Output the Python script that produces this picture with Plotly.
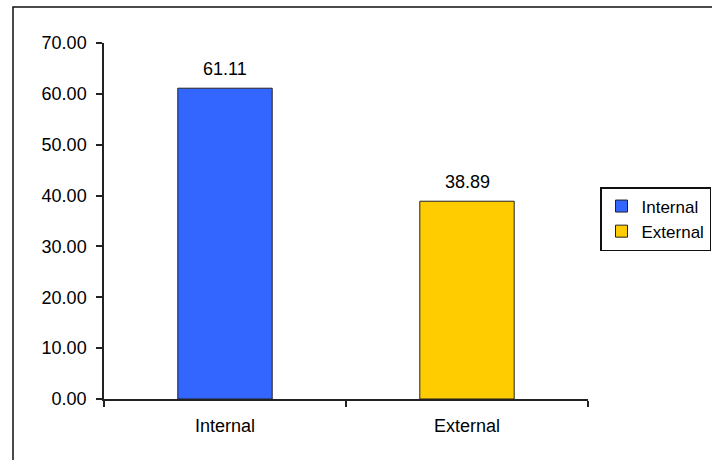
import plotly.graph_objects as go

# Share of sources, in percent
categories = ["Internal", "External"]
values = [61.11, 38.89]
colors = ["#3366FF", "#FFCC00"]
y_ticks = [0, 10, 20, 30, 40, 50, 60, 70]

W, H = 712, 460
L, R, T, B = 104, 588, 43, 399  # plot area in pixels

fig = go.Figure()
for cat, val, col in zip(categories, values, colors):
    fig.add_trace(go.Bar(
        x=[cat], y=[val], name=cat,
        marker=dict(color=col, line=dict(color="#222222", width=1)),
        width=0.39,
    ))
    # value label above each bar
    fig.add_annotation(
        x=cat, y=val, text=f"{val:.2f}", showarrow=False,
        yanchor="bottom", yshift=7, font=dict(size=18, color="#000000"),
    )

font = dict(family="Liberation Sans, Arial, sans-serif", size=18, color="#000000")

fig.update_layout(
    width=W, height=H,
    margin=dict(l=L, r=W - R, t=T, b=H - B, autoexpand=False),
    paper_bgcolor="white", plot_bgcolor="white",
    barmode="overlay",
    font=font,
    showlegend=True,
    legend=dict(
        x=(600 - L) / (R - L), y=(B - 219) / (B - T),
        xanchor="left", yanchor="middle",
        bordercolor="#111111", borderwidth=1.5,
        font=dict(size=17), tracegroupgap=0,
        itemwidth=30,
    ),
    xaxis=dict(
        showline=True, linecolor="#222222", linewidth=1.5,
        ticks="outside", ticklen=6, tickcolor="#222222", tickwidth=1.5,
        tickson="boundaries", showgrid=False,
        tickfont=dict(size=18), ticklabelstandoff=10,
    ),
    yaxis=dict(
        range=[0, 70], tickvals=y_ticks, tickformat=".2f",
        showline=True, linecolor="#222222", linewidth=1.5,
        ticks="outside", ticklen=6, tickcolor="#222222", tickwidth=1.5,
        showgrid=False, zeroline=False,
        tickfont=dict(size=18), ticklabelstandoff=6,
    ),
    shapes=[dict(
        type="rect", xref="paper", yref="paper",
        x0=(13 - L) / (R - L), x1=2.0,
        y0=-1.0, y1=(B - 7) / (B - T),
        line=dict(color="#111111", width=1.5), layer="below",
    )],
)

fig.write_html("out.html")
